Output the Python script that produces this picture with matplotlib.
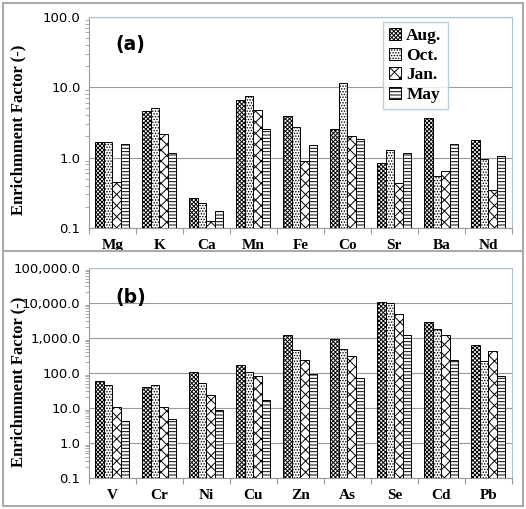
import matplotlib
matplotlib.use('Agg')
import matplotlib.pyplot as plt
import numpy as np
from matplotlib.ticker import FixedLocator, FuncFormatter, NullFormatter

seasons = ['Aug.', 'Oct.', 'Jan.', 'May']

elements_a = ['Mg', 'K', 'Ca', 'Mn', 'Fe', 'Co', 'Sr', 'Ba', 'Nd']
aug_a = [1.67, 4.6, 0.267, 6.5, 3.9, 2.55, 0.83, 3.6, 1.76]
oct_a = [1.67, 5.0, 0.226, 7.6, 2.7, 11.4, 1.3, 0.54, 0.95]
jan_a = [0.45, 2.2, 0.125, 4.7, 0.9, 2.05, 0.44, 0.65, 0.35]
may_a = [1.55, 1.16, 0.176, 2.55, 1.5, 1.82, 1.16, 1.55, 1.05]

elements_b = ['V', 'Cr', 'Ni', 'Cu', 'Zn', 'As', 'Se', 'Cd', 'Pb']
aug_b = [60, 40, 110, 165, 1200, 950, 10500, 2800, 650]
oct_b = [45, 45, 53, 105, 450, 500, 10000, 1800, 220]
jan_b = [10.5, 10.5, 24, 80, 240, 300, 5000, 1200, 420]
may_b = [4.2, 4.8, 8.8, 17, 95, 70, 1200, 240, 80]

ticks_a = [0.1, 1, 10, 100]
ticks_b = [0.1, 1, 10, 100, 1000, 10000, 100000]

hatches = ['xxxxxxxx', '......', 'xxx', '-----']
serif = 'Liberation Serif'
sans = 'DejaVu Sans'
plt.rcParams['hatch.linewidth'] = 0.7

fig = plt.figure(figsize=(5.26, 5.09), dpi=100)


def draw_panel(ax, cats, series, yticks, tag, fmt, label_y):
    n = len(cats)
    x = np.arange(n)
    w = 0.18
    base = yticks[0]
    for i, vals in enumerate(series):
        heights = [v - base for v in vals]
        ax.bar(x + (i - 1.5) * w, heights, w, bottom=base, color='white',
               edgecolor='black', hatch=hatches[i], linewidth=0.7,
               label=seasons[i], zorder=3)
    ax.set_yscale('log')
    ax.set_ylim(yticks[0], yticks[-1])
    ax.set_xlim(-0.5, n - 0.5)
    minors = [d * k for d in yticks[:-1] for k in range(2, 10)]
    ax.yaxis.set_major_locator(FixedLocator(yticks))
    ax.yaxis.set_minor_locator(FixedLocator(minors))
    ax.yaxis.set_minor_formatter(NullFormatter())
    ax.yaxis.set_major_formatter(FuncFormatter(fmt))
    ax.grid(axis='y', which='major', color='#999999', linewidth=0.8, zorder=0)
    ax.tick_params(axis='y', which='major', length=0, labelsize=9.5, pad=6)
    ax.tick_params(axis='y', which='minor', length=3, color='#999999')
    for t in ax.get_yticklabels():
        t.set_fontfamily(sans)
    ax.xaxis.set_major_locator(FixedLocator(np.arange(-0.5, n, 1.0)))
    ax.xaxis.set_major_formatter(NullFormatter())
    ax.xaxis.set_minor_locator(FixedLocator(x))
    ax.set_xticklabels(cats, minor=True)
    ax.tick_params(axis='x', which='major', length=4, color='#999999', direction='out')
    ax.tick_params(axis='x', which='minor', length=0, pad=8)
    for t in ax.get_xticklabels(minor=True):
        t.set_fontfamily(serif)
        t.set_fontweight('bold')
        t.set_fontsize(11)
    ax.spines['left'].set_color('#999999')
    ax.spines['bottom'].set_color('#999999')
    ax.spines['top'].set_color('#a8c0dc')
    ax.spines['right'].set_color('#a8c0dc')
    fig.text(18 / 526, label_y, 'Enrichmment Factor (-)', rotation=90,
             ha='center', va='center', fontfamily=serif, fontweight='bold',
             fontsize=12)
    ax.text(0.063, 0.87 if tag == '(a)' else 0.86, tag, transform=ax.transAxes,
            fontfamily=sans, fontweight='bold', fontsize=13.5, va='center')


fmt_a = lambda v, p: '%.1f' % v
fmt_b = lambda v, p: '{:,.1f}'.format(v)

ax1 = fig.add_axes([0.169, 0.552, 0.804, 0.415])
draw_panel(ax1, elements_a, [aug_a, oct_a, jan_a, may_a], ticks_a, '(a)', fmt_a,
           1 - 130 / 509)
leg = ax1.legend(loc='upper left', bbox_to_anchor=(0.695, 0.976), frameon=True,
                 fancybox=False, edgecolor='#a8c0dc', handlelength=0.7,
                 handleheight=0.7, handletextpad=0.3, labelspacing=0.2,
                 borderpad=0.35, borderaxespad=0,
                 prop={'family': serif, 'weight': 'bold', 'size': 12.5})
leg.get_frame().set_linewidth(1.0)

ax2 = fig.add_axes([0.169, 0.061, 0.804, 0.4125])
draw_panel(ax2, elements_b, [aug_b, oct_b, jan_b, may_b], ticks_b, '(b)', fmt_b,
           1 - 382 / 509)

# outer frame and separator
fig.patches.append(plt.Rectangle((0.006, 0.006), 0.988, 0.988, transform=fig.transFigure,
                                 fill=False, edgecolor='#aaaaaa', linewidth=1.5))
fig.lines.append(plt.Line2D([0.006, 0.994], [0.506, 0.506], transform=fig.transFigure,
                            color='#aaaaaa', linewidth=1.5))

fig.savefig('out.png', dpi=100)
